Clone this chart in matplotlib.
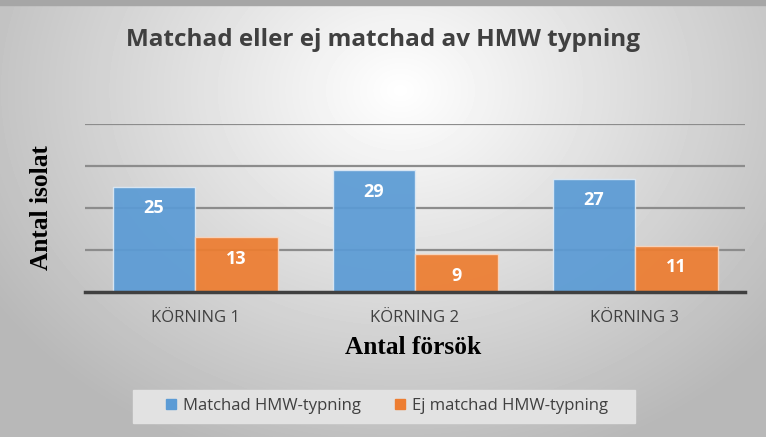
import numpy as np
import matplotlib
matplotlib.use("Agg")
import matplotlib.pyplot as plt
from matplotlib.patches import Patch, Rectangle

# data
kategorier = ["KÖRNING 1", "KÖRNING 2", "KÖRNING 3"]
matchad = [25, 29, 27]
ej_matchad = [13, 9, 11]
serie_namn = ["Matchad HMW-typning", "Ej matchad HMW-typning"]

blue = "#5B9BD5"
orange = "#ED7D31"

fig = plt.figure(figsize=(7.66, 4.37), dpi=100)

# radial gray background
bg = fig.add_axes([0, 0, 1, 1], zorder=-10)
yy, xx = np.mgrid[0:437, 0:766]
r = np.sqrt(((xx - 400) / 520.0) ** 2 + ((yy - 90) / 420.0) ** 2)
g = np.clip(1.0 - 0.30 * r, 0.72, 1.0)
bg.imshow(g, cmap="gray", vmin=0, vmax=1, aspect="auto", extent=[0, 766, 437, 0])
bg.fill_between([0, 766], 0, 5, color="#a6a6a6")
# legend box
bg.add_patch(Rectangle((133, 390), 502, 33, color="#e2e2e2", zorder=2))
bg.set_xlim(0, 766)
bg.set_ylim(437, 0)
bg.axis("off")

ax = fig.add_axes([85 / 766, 145 / 437, 660 / 766, 168 / 437])
ax.patch.set_alpha(0)

x = np.arange(len(kategorier))
w = 0.375
b1 = ax.bar(x - w / 2, matchad, w, color=blue, edgecolor="#dce9f5", linewidth=1.0,
            alpha=0.93, label=serie_namn[0], zorder=3)
b2 = ax.bar(x + w / 2, ej_matchad, w, color=orange, edgecolor="#f7d6c0", linewidth=1.0,
            alpha=0.93, label=serie_namn[1], zorder=3)

for bars in (b1, b2):
    for b in bars:
        ax.text(b.get_x() + b.get_width() / 2, b.get_height() - 5.1, str(int(b.get_height())),
                ha="center", va="center", color="white", fontsize=13, fontweight="bold",
                family="Open Sans", zorder=4)

ax.set_xlim(-0.5, 2.5)
ax.set_ylim(0, 40)
ax.set_yticks([10, 20, 30, 40])
ax.yaxis.grid(True, color="#8c8c8c", linewidth=1.6, zorder=1)
ax.tick_params(axis="y", length=0, labelleft=False)
ax.tick_params(axis="x", length=0, pad=13, labelsize=12, labelcolor="#404040")
ax.set_xticks(x)
ax.set_xticklabels(kategorier, family="Open Sans")
for s in ["top", "right", "left"]:
    ax.spines[s].set_visible(False)
ax.spines["bottom"].set_color("#404040")
ax.spines["bottom"].set_linewidth(2.5)
ax.spines["bottom"].set_zorder(5)

fig.text(383 / 766, 1 - 40 / 437, "Matchad eller ej matchad av HMW typning", ha="center", va="center",
         fontsize=17.5, fontweight="bold", color="#404040", family="Open Sans")
fig.text(42 / 766, 1 - 208 / 437, "Antal isolat", rotation=90, ha="center", va="center",
         fontsize=18.3, fontweight="bold", family="Liberation Serif", color="black")
fig.text(413 / 766, 1 - 348 / 437, "Antal försök", ha="center", va="center",
         fontsize=18.3, fontweight="bold", family="Liberation Serif", color="black")

handles = [Patch(color=blue), Patch(color=orange)]
leg = fig.legend(handles, serie_namn, loc="center", bbox_to_anchor=(387 / 766, 1 - 406 / 437),
                 ncol=2, frameon=False, handlelength=0.6, handleheight=0.6,
                 columnspacing=2.0, handletextpad=0.45,
                 prop={"family": "Open Sans", "size": 12})
for t in leg.get_texts():
    t.set_color("#404040")

fig.savefig("out.png", dpi=100)
